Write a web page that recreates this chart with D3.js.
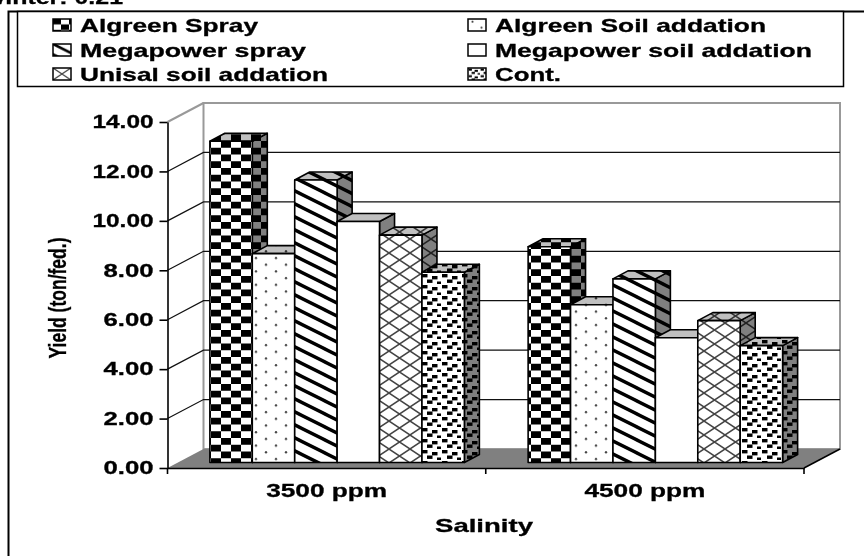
<!DOCTYPE html>
<html lang="en">

<head>
    <meta charset="UTF-8">
    <title>Yield under salinity</title>
    <style>
        html, body { margin: 0; padding: 0; background: #fff; }
        svg { display: block; }
        text { font-family: "Liberation Sans", Arial, sans-serif; font-weight: bold; fill: #000; stroke: #000; stroke-width: 0.3px; }
    </style>
</head>

<body>
    <div id="wrapper"></div>
    <script src="https://d3js.org/d3.v7.min.js"></script>
    <script>
        const categories = ['3500 ppm', '4500 ppm'];
        const seriesNames = ['Algreen Spray', 'Algreen Soil addation', 'Megapower spray',
            'Megapower soil addation', 'Unisal soil addation', 'Cont.'];
        const algreenSpray = [13.0, 8.73];
        const algreenSoil = [8.45, 6.38];
        const megapowerSpray = [11.43, 7.43];
        const megapowerSoil = [9.75, 5.05];
        const unisalSoil = [9.2, 5.74];
        const cont = [7.7, 4.73];
        const seriesValues = [algreenSpray, algreenSoil, megapowerSpray, megapowerSoil, unisalSoil, cont];
        const yTicks = [0, 2, 4, 6, 8, 10, 12, 14];
        const patternKeys = ['checker', 'dots', 'stripes', 'plain', 'cross', 'dashes'];

        const width = 864, height = 556;
        const svg = d3.select('#wrapper').append('svg')
            .attr('width', width)
            .attr('height', height);
        const defs = svg.append('defs');

        // plot box, the floor goes back by depth
        const plotLeft = 167.5, plotRight = 804, plotBottom = 468, plotTop = 122;
        const depthX = 36, depthY = -19;
        // one bar's own depth
        const barDX = 15, barDY = -8;
        const clusterWidth = 254.5;

        const y = d3.scaleLinear().domain([0, 14]).range([plotBottom, plotTop]);
        const x0 = d3.scaleBand().domain(categories).range([plotLeft, plotRight]);
        const x1 = d3.scaleBand().domain(seriesNames).range([0, clusterWidth]);

        // patterns, the legend swatches use their own scale
        const smallScale = { checker: 0.8, dots: 0.9, stripes: 0.8, plain: 1, cross: 0.85, dashes: 0.6 };
        function makePattern(key, suffix, s) {
            const sizes = {
                checker: [20, 13.5], dots: [20, 13.4], stripes: [26, 13],
                plain: [4, 4], cross: [21, 14], dashes: [20, 11]
            };
            const p = defs.append('pattern')
                .attr('id', key + suffix)
                .attr('patternUnits', 'userSpaceOnUse')
                .attr('width', sizes[key][0])
                .attr('height', sizes[key][1])
                .attr('patternTransform', `translate(${suffix ? 0 : 221},${suffix ? 0 : 141}) scale(${s})`);
            p.append('rect').attr('width', sizes[key][0]).attr('height', sizes[key][1]).attr('fill', '#fff');
            if (key === 'checker') {
                p.append('rect').attr('width', 10).attr('height', 6.75);
                p.append('rect').attr('x', 10).attr('y', 6.75).attr('width', 10).attr('height', 6.75);
            }
            if (key === 'dots') {
                p.append('circle').attr('cx', 5).attr('cy', 3).attr('r', 1.2).attr('fill', '#444');
                p.append('circle').attr('cx', 15).attr('cy', 9.7).attr('r', 1.2).attr('fill', '#444');
            }
            if (key === 'stripes') {
                p.append('path').attr('d', 'M-26,-13L52,26M-26,0L26,26M0,-13L52,13')
                    .attr('stroke', '#000').attr('stroke-width', 3.4);
            }
            if (key === 'cross') {
                p.append('path').attr('d', 'M0,0L21,14M0,14L21,0')
                    .attr('stroke', '#444').attr('stroke-width', 1.5).attr('fill', 'none');
            }
            if (key === 'dashes') {
                [[1, 1], [11, 3], [6, 6.5], [16, 8.5]].forEach(d => {
                    p.append('rect').attr('x', d[0]).attr('y', d[1])
                        .attr('width', 5.5).attr('height', 3.4).attr('fill', '#000');
                });
            }
        }
        patternKeys.forEach(k => {
            makePattern(k, '', 1);
            makePattern(k, 'Small', smallScale[k]);
        });

        // title line, cut by the top of the page as in the source picture
        svg.append('text').attr('x', -18).attr('y', 4)
            .style('font-size', '19px')
            .attr('textLength', 141).attr('lengthAdjust', 'spacingAndGlyphs')
            .text('Winter:  0.21');

        // outer frame
        svg.append('path').attr('d', `M${width},11.5H8.5V${height}`)
            .attr('fill', 'none').attr('stroke', '#000').attr('stroke-width', 2);

        // walls
        svg.append('rect')
            .attr('x', plotLeft + depthX).attr('y', y(14) + depthY)
            .attr('width', plotRight - plotLeft).attr('height', plotBottom - plotTop)
            .attr('fill', '#fff').attr('stroke', '#999').attr('stroke-width', 2);
        svg.append('line')
            .attr('x1', plotLeft).attr('y1', y(14)).attr('x2', plotLeft + depthX).attr('y2', y(14) + depthY)
            .attr('stroke', '#999').attr('stroke-width', 2);

        // grid on the back wall and the left wall
        const grid = yTicks.filter(d => d > 0 && d < 14);
        svg.append('g').selectAll('path').data(grid).join('path')
            .attr('d', d => `M${plotLeft},${y(d)}L${plotLeft + depthX},${y(d) + depthY}H${plotRight + depthX}`)
            .attr('fill', 'none').attr('stroke', '#111').attr('stroke-width', 1.2);

        // floor
        svg.append('polygon')
            .attr('points', [[plotLeft, plotBottom], [plotRight, plotBottom], [plotRight + depthX, plotBottom + depthY], [plotLeft + depthX, plotBottom + depthY]].join(' '))
            .attr('fill', '#808080');
        svg.append('line')
            .attr('x1', plotRight).attr('y1', plotBottom).attr('x2', plotRight + depthX).attr('y2', plotBottom + depthY)
            .attr('stroke', '#000').attr('stroke-width', 1.5);

        // bars, drawn left to right so the next one hides the side of the one before
        const offX = (depthX - barDX) / 2, offY = (depthY - barDY) / 2;
        const barRows = categories.flatMap((c, ci) => seriesNames.map((s, si) => ({
            x: x0(c) + (x0.bandwidth() - clusterWidth) / 2 + offX + x1(s),
            top: y(seriesValues[si][ci]) + offY,
            base: y(0) + offY,
            w: x1.bandwidth(),
            key: patternKeys[si]
        })));
        const bars = svg.append('g').selectAll('g').data(barRows).join('g');
        const face = sel => sel
            .attr('stroke', '#000').attr('stroke-width', 1.6).attr('stroke-linejoin', 'round');
        const sidePoints = d => [[d.x + d.w, d.base], [d.x + d.w + barDX, d.base + barDY], [d.x + d.w + barDX, d.top + barDY], [d.x + d.w, d.top]].join(' ');
        const topPoints = d => [[d.x, d.top], [d.x + barDX, d.top + barDY], [d.x + d.w + barDX, d.top + barDY], [d.x + d.w, d.top]].join(' ');
        // side
        bars.append('polygon').attr('points', sidePoints)
            .attr('fill', d => `url(#${d.key})`);
        bars.append('polygon').attr('points', sidePoints)
            .attr('fill', '#808080').style('mix-blend-mode', 'multiply');
        bars.append('polygon').attr('points', sidePoints)
            .attr('fill', 'none').call(face);
        // top
        bars.append('polygon').attr('points', topPoints)
            .attr('fill', d => `url(#${d.key})`);
        bars.append('polygon').attr('points', topPoints)
            .attr('fill', '#c0c0c0').style('mix-blend-mode', 'multiply');
        bars.append('polygon').attr('points', topPoints)
            .attr('fill', 'none').call(face);
        // front
        bars.append('rect')
            .attr('x', d => d.x).attr('y', d => d.top)
            .attr('width', d => d.w).attr('height', d => d.base - d.top)
            .attr('fill', d => `url(#${d.key})`).call(face);

        // axes
        const yAxis = svg.append('g').attr('transform', `translate(${plotLeft},0)`)
            .call(d3.axisLeft(y).tickValues(yTicks).tickFormat(d3.format('.2f')).tickSize(8).tickSizeOuter(0).tickPadding(6));
        const xAxis = svg.append('g').attr('transform', `translate(0,${plotBottom})`)
            .call(d3.axisBottom(x0).tickSize(0).tickPadding(16));
        svg.append('g').selectAll('line').data([plotLeft, x0(categories[1]), plotRight]).join('line')
            .attr('x1', d => d).attr('x2', d => d).attr('y1', plotBottom).attr('y2', plotBottom + 6)
            .attr('stroke', '#000').attr('stroke-width', 1.6);
        [yAxis, xAxis].forEach(a => {
            a.selectAll('path,line').attr('stroke', '#000').attr('stroke-width', 1.6);
            a.selectAll('text').attr('fill', '#000').style('font-size', '18px').attr('font-family', null);
        });
        yAxis.selectAll('text')
            .attr('textLength', d => d >= 10 ? 61 : 50).attr('lengthAdjust', 'spacingAndGlyphs');
        xAxis.selectAll('text')
            .style('font-size', '19px')
            .attr('textLength', 121).attr('lengthAdjust', 'spacingAndGlyphs');

        // axis titles
        svg.append('text')
            .attr('text-anchor', 'middle')
            .attr('x', 484).attr('y', 532)
            .style('font-size', '19px')
            .attr('textLength', 98).attr('lengthAdjust', 'spacingAndGlyphs')
            .text('Salinity');
        svg.append('text')
            .attr('transform', 'translate(66,298) rotate(-90)')
            .attr('text-anchor', 'middle')
            .style('font-size', '24px')
            .attr('textLength', 121).attr('lengthAdjust', 'spacingAndGlyphs')
            .text('Yield (ton/fed.)');

        // legend
        svg.append('rect').attr('x', 17.5).attr('y', 11.5).attr('width', 826).attr('height', 75)
            .attr('fill', '#fff').attr('stroke', '#000').attr('stroke-width', 1.5);
        const legendX = [53, 468], legendY = [19, 44, 68];
        const legendLen = [178, 271, 226, 317, 248, 66];
        const legend = svg.append('g').selectAll('g').data(seriesNames).join('g')
            .attr('transform', (d, i) => `translate(${legendX[i % 2]},${legendY[Math.floor(i / 2)]})`);
        legend.append('rect')
            .attr('width', 18).attr('height', 12)
            .attr('fill', (d, i) => `url(#${patternKeys[i]}Small)`)
            .attr('stroke', '#000').attr('stroke-width', 1.5);
        legend.append('text')
            .attr('x', 27).attr('y', 12.5)
            .style('font-size', '18.5px')
            .attr('textLength', (d, i) => legendLen[i]).attr('lengthAdjust', 'spacingAndGlyphs')
            .text(d => d);
    </script>
</body>

</html>
